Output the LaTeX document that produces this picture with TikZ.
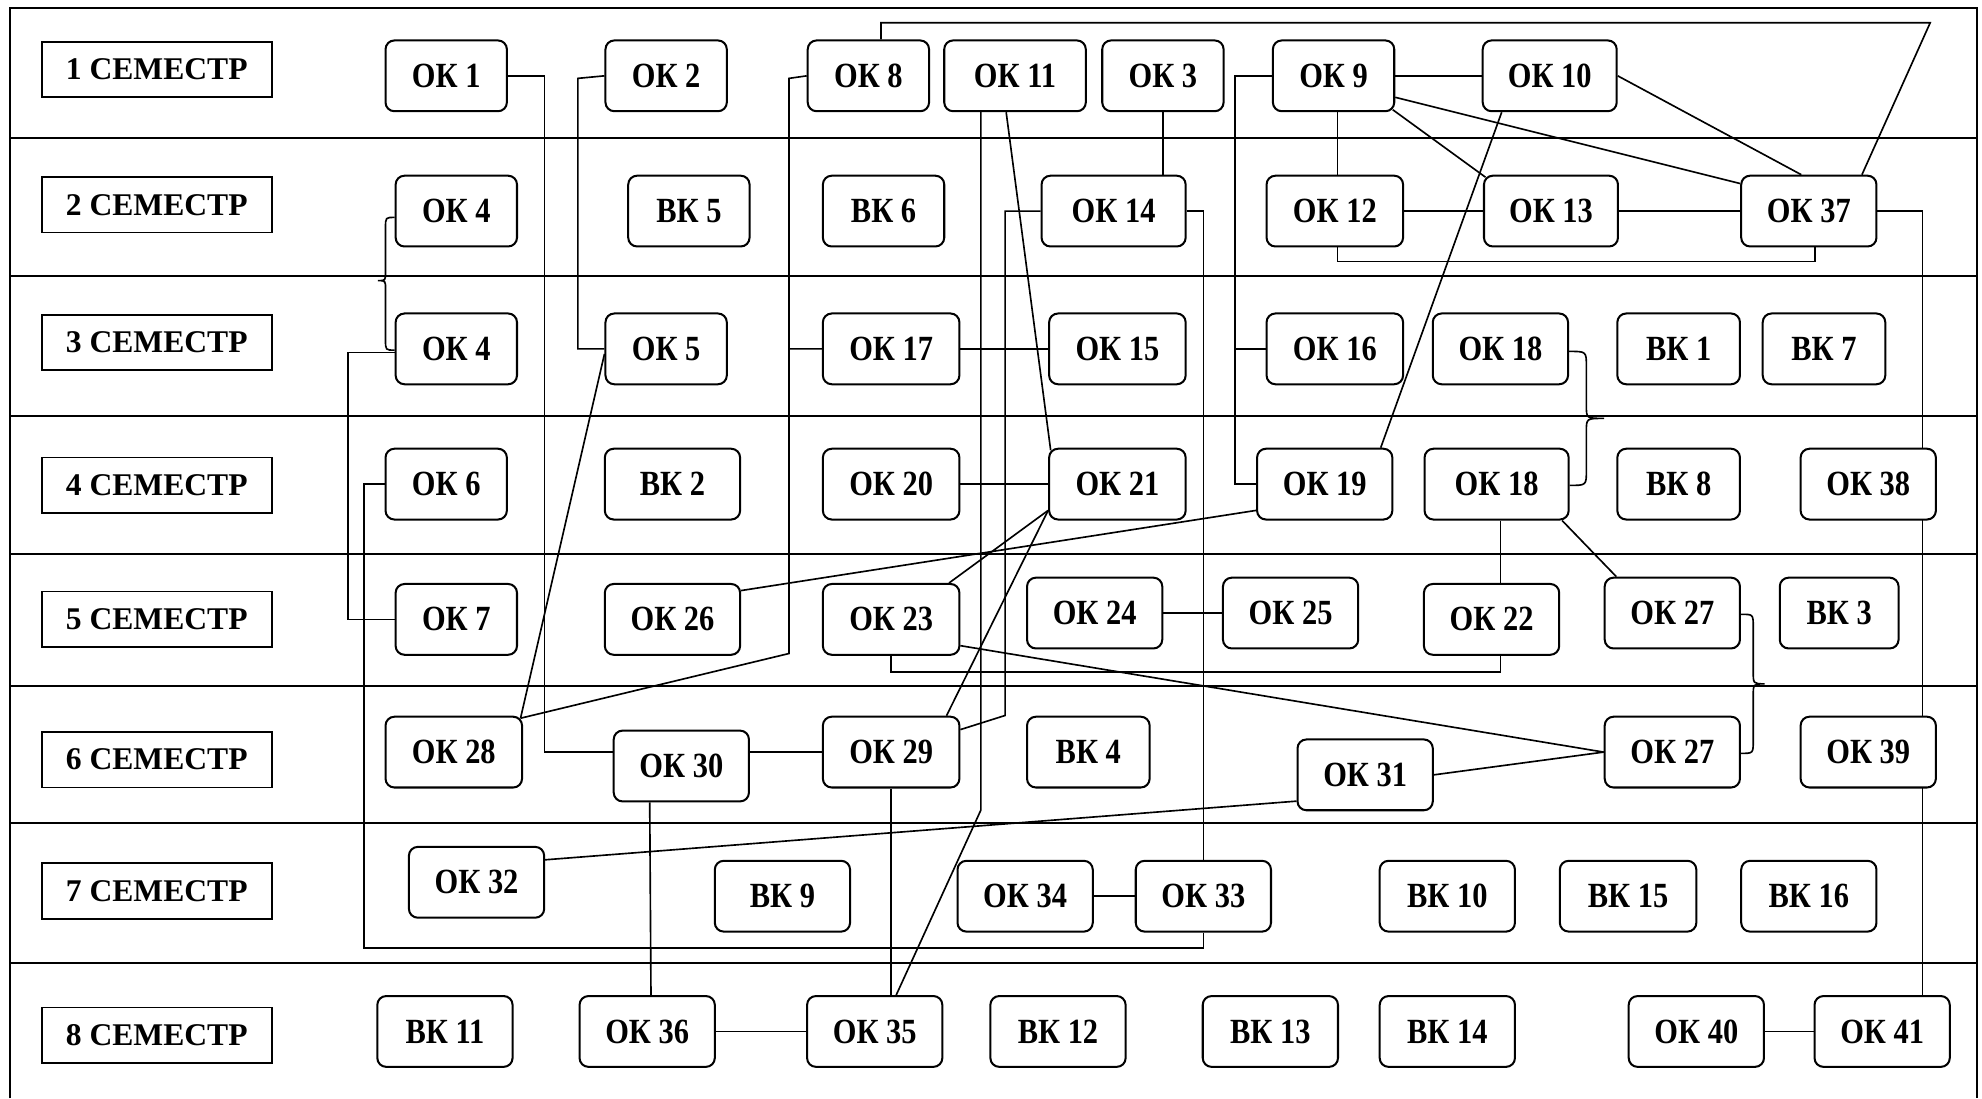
\documentclass[tikz,border=0pt]{standalone}
\usepackage{fontspec}
\setmainfont{Liberation Serif}
\newfontfamily\okfont{Liberation Serif}[FakeStretch=0.86]
\usetikzlibrary{backgrounds}
\begin{document}
\begin{tikzpicture}[x=1pt,y=-1pt,
  ok/.style={draw, line width=1.6pt, rounded corners=7pt, fill=white, minimum height=56pt, inner sep=0pt, font=\okfont\fontsize{28}{32}\selectfont\bfseries},
  sem/.style={draw, line width=1.4pt, fill=white, minimum width=182pt, minimum height=44pt, inner sep=0pt, font=\fontsize{25}{30}\selectfont\bfseries},
  conn/.style={line width=1.3pt},
  gridline/.style={line width=1.6pt}]
\useasboundingbox (0,0) rectangle (1568,869);
% frame and rows
\draw[gridline] (8,869) -- (8,6) -- (1564,6) -- (1564,869);
\foreach \yy in {109,218,329,438,543,651,762} \draw[gridline] (8,\yy) -- (1564,\yy);
% semester labels
\node[sem] (s1) at (124,55) {1 СЕМЕСТР};
\node[sem] (s2) at (124,162) {2 СЕМЕСТР};
\node[sem] (s3) at (124,271) {3 СЕМЕСТР};
\node[sem] (s4) at (124,384) {4 СЕМЕСТР};
\node[sem] (s5) at (124,490) {5 СЕМЕСТР};
\node[sem] (s6) at (124,601) {6 СЕМЕСТР};
\node[sem] (s7) at (124,705) {7 СЕМЕСТР};
\node[sem] (s8) at (124,819) {8 СЕМЕСТР};
% row 1
\node[ok, minimum width=96pt] (ok1) at (353,60) {ОК 1};
\node[ok, minimum width=96pt] (ok2) at (527,60) {ОК 2};
\node[ok, minimum width=96pt] (ok8) at (687,60) {ОК 8};
\node[ok, minimum width=112pt] (ok11) at (803,60) {ОК 11};
\node[ok, minimum width=96pt] (ok3) at (920,60) {ОК 3};
\node[ok, minimum width=96pt] (ok9) at (1055,60) {ОК 9};
\node[ok, minimum width=106pt] (ok10) at (1226,60) {ОК 10};
% row 2
\node[ok, minimum width=96pt] (ok4a) at (361,167) {ОК 4};
\node[ok, minimum width=96pt] (vk5) at (545,167) {ВК 5};
\node[ok, minimum width=96pt] (vk6) at (699,167) {ВК 6};
\node[ok, minimum width=114pt] (ok14) at (881,167) {ОК 14};
\node[ok, minimum width=108pt] (ok12) at (1056,167) {ОК 12};
\node[ok, minimum width=106pt] (ok13) at (1227,167) {ОК 13};
\node[ok, minimum width=107pt] (ok37) at (1431,167) {ОК 37};
% row 3
\node[ok, minimum width=96pt] (ok4b) at (361,276) {ОК 4};
\node[ok, minimum width=96pt] (ok5) at (527,276) {ОК 5};
\node[ok, minimum width=108pt] (ok17) at (705,276) {ОК 17};
\node[ok, minimum width=108pt] (ok15) at (884,276) {ОК 15};
\node[ok, minimum width=108pt] (ok16) at (1056,276) {ОК 16};
\node[ok, minimum width=107pt] (ok18a) at (1187,276) {ОК 18};
\node[ok, minimum width=97pt] (vk1) at (1328,276) {ВК 1};
\node[ok, minimum width=97pt] (vk7) at (1443,276) {ВК 7};
% row 4
\node[ok, minimum width=96pt] (ok6) at (353,383) {ОК 6};
\node[ok, minimum width=107pt] (vk2) at (532,383) {ВК 2};
\node[ok, minimum width=108pt] (ok20) at (705,383) {ОК 20};
\node[ok, minimum width=108pt] (ok21) at (884,383) {ОК 21};
\node[ok, minimum width=107pt] (ok19) at (1048,383) {ОК 19};
\node[ok, minimum width=114pt] (ok18b) at (1184,383) {ОК 18};
\node[ok, minimum width=97pt] (vk8) at (1328,383) {ВК 8};
\node[ok, minimum width=107pt] (ok38) at (1478,383) {ОК 38};
% row 5
\node[ok, minimum width=96pt] (ok7) at (361,490) {ОК 7};
\node[ok, minimum width=107pt] (ok26) at (532,490) {ОК 26};
\node[ok, minimum width=108pt] (ok23) at (705,490) {ОК 23};
\node[ok, minimum width=107pt] (ok24) at (866,485) {ОК 24};
\node[ok, minimum width=107pt] (ok25) at (1021,485) {ОК 25};
\node[ok, minimum width=107pt] (ok22) at (1180,490) {ОК 22};
\node[ok, minimum width=107pt] (ok27a) at (1323,485) {ОК 27};
\node[ok, minimum width=94pt] (vk3) at (1455,485) {ВК 3};
% row 6
\node[ok, minimum width=108pt] (ok28) at (359,595) {ОК 28};
\node[ok, minimum width=107pt] (ok30) at (539,606) {ОК 30};
\node[ok, minimum width=108pt] (ok29) at (705,595) {ОК 29};
\node[ok, minimum width=97pt] (vk4) at (861,595) {ВК 4};
\node[ok, minimum width=107pt] (ok31) at (1080,613) {ОК 31};
\node[ok, minimum width=107pt] (ok27b) at (1323,595) {ОК 27};
\node[ok, minimum width=107pt] (ok39) at (1478,595) {ОК 39};
% row 7
\node[ok, minimum width=107pt] (ok32) at (377,698) {ОК 32};
\node[ok, minimum width=107pt] (vk9) at (619,709) {ВК 9};
\node[ok, minimum width=107pt] (ok34) at (811,709) {ОК 34};
\node[ok, minimum width=107pt] (ok33) at (952,709) {ОК 33};
\node[ok, minimum width=107pt] (vk10) at (1145,709) {ВК 10};
\node[ok, minimum width=108pt] (vk15) at (1288,709) {ВК 15};
\node[ok, minimum width=107pt] (vk16) at (1431,709) {ВК 16};
% row 8
\node[ok, minimum width=107pt] (vk11) at (352,816) {ВК 11};
\node[ok, minimum width=107pt] (ok36) at (512,816) {ОК 36};
\node[ok, minimum width=107pt] (ok35) at (692,816) {ОК 35};
\node[ok, minimum width=107pt] (vk12) at (837,816) {ВК 12};
\node[ok, minimum width=107pt] (vk13) at (1005,816) {ВК 13};
\node[ok, minimum width=107pt] (vk14) at (1145,816) {ВК 14};
\node[ok, minimum width=107pt] (ok40) at (1342,816) {ОК 40};
\node[ok, minimum width=107pt] (ok41) at (1489,816) {ОК 41};
% connectors
\begin{scope}[on background layer]
\begin{scope}[conn]
\draw (ok1.east) -- ++(29,0) |- ([yshift=11pt]ok30.west);
\draw (ok2.west) -- ++(-21,2) |- (ok5.west);
\coordinate (j8) at ([xshift=-14pt,yshift=-2pt]ok8.west);
\draw (ok8.west) -- (j8) |- (ok17.west);
\draw (j8) -- ++(0,455) -- ([xshift=-2pt,yshift=-2pt]ok28.north east);
\draw ([xshift=10pt]ok8.north) |- (1527,18) -- ([xshift=42pt]ok37.north);
\draw ([xshift=-27pt]ok11.south) -- ++(0,552) -- ([xshift=17pt]ok35.north);
\draw ([xshift=-7pt]ok11.south) -- ([xshift=2pt,yshift=-2pt]ok21.north west);
\draw (ok3.south) -- (ok3.south |- ok14.north);
\draw (ok14.west) -- ++(-28,0) -- ++(0,399) -- ([yshift=-11pt]ok29.north east);
\draw (ok14.east) -| (ok33.north);
\draw (ok33.south) -- ++(0,12) -| ([xshift=-16pt]ok6.west) -- (ok6.west);
\coordinate (j9) at ([xshift=-29pt]ok9.west);
\draw (ok9.west) -- (j9) |- (ok19.west);
\draw (j9) |- (ok16.west);
\draw (ok9.east) -- (ok10.west);
\draw ([xshift=3pt]ok9.south) -- ([xshift=2pt]ok12.north);
\draw ([yshift=-17pt]ok9.east) -- ([yshift=-7pt]ok37.north west);
\draw ([xshift=-2pt,yshift=2pt]ok9.south east) -- ([xshift=2pt,yshift=-2pt]ok13.north west);
\draw (ok10.east) -- ([xshift=-6pt]ok37.north);
\draw ([xshift=-38pt]ok10.south) -- ([xshift=-10pt]ok19.north east);
\draw (ok12.east) -- (ok13.west);
\draw (ok13.east) -- (ok37.west);
\draw ([xshift=2pt]ok12.south) -- ++(0,11) -| ([xshift=5pt]ok37.south);
\draw (ok37.east) -| ([xshift=32pt]ok41.north);
% braces
\draw ([yshift=-5pt]ok4a.west) .. controls (305,172) .. (305,180) -- (305,215) .. controls (305,222) .. (299,222) .. controls (305,222) .. (305,229) -- (305,269) .. controls (305,277) .. ([yshift=-1pt]ok4b.west);
\draw ([yshift=-2pt]ok18a.east) .. controls (1255,278) .. (1255,290) -- (1255,321) .. controls (1255,331) .. (1269,331) .. controls (1255,331) .. (1255,341) -- (1255,372) .. controls (1255,384) .. ([yshift=-1pt]ok18b.east);
\draw ([yshift=-1pt]ok27a.east) .. controls (1387,486) .. (1387,496) -- (1387,531) .. controls (1387,541) .. (1396,541) .. controls (1387,541) .. (1387,551) -- (1387,586) .. controls (1387,596) .. ([yshift=-1pt]ok27b.east);
\draw ([yshift=-3pt]ok4b.west) -- ++(-37,0) |- (ok7.west);
\draw ([yshift=-4pt]ok5.west) -- ([xshift=-2pt,yshift=-2pt]ok28.north east);
\draw (ok17.east) -- (ok15.west);
\draw (ok20.east) -- (ok21.west);
\draw ([yshift=8pt]ok21.south west) -- ([xshift=-9pt]ok23.north east);
\draw ([yshift=8pt]ok21.south west) -- ([xshift=-11pt]ok29.north east);
\draw ([yshift=8pt]ok19.south west) -- ([yshift=-6pt]ok26.north east);
\draw (ok23.south) -- ++(0,13) -| ([xshift=7pt]ok22.south);
\draw ([xshift=3pt]ok18b.south) -- ([xshift=7pt]ok22.north);
\draw ([xshift=-6pt]ok18b.south east) -- ([xshift=10pt]ok27a.north west);
\draw ([yshift=8pt]ok23.south east) -- (ok27b.west);
\draw (ok31.east) -- (ok27b.west);
\draw (ok24.east) -- (ok25.west);
\draw (ok29.west) -- (ok29.west -| ok30.east);
\draw ([xshift=-25pt]ok30.south) -- ([xshift=3pt]ok36.north);
\draw (ok29.south) -- (ok29.south |- ok35.north);
\draw ([yshift=8pt]ok31.south west) -- ([yshift=-11pt]ok32.north east);
\draw (ok34.east) -- (ok33.west);
\draw (ok36.east) -- (ok35.west);
\draw (ok40.east) -- (ok41.west);
\end{scope}
\end{scope}
\end{tikzpicture}
\end{document}
